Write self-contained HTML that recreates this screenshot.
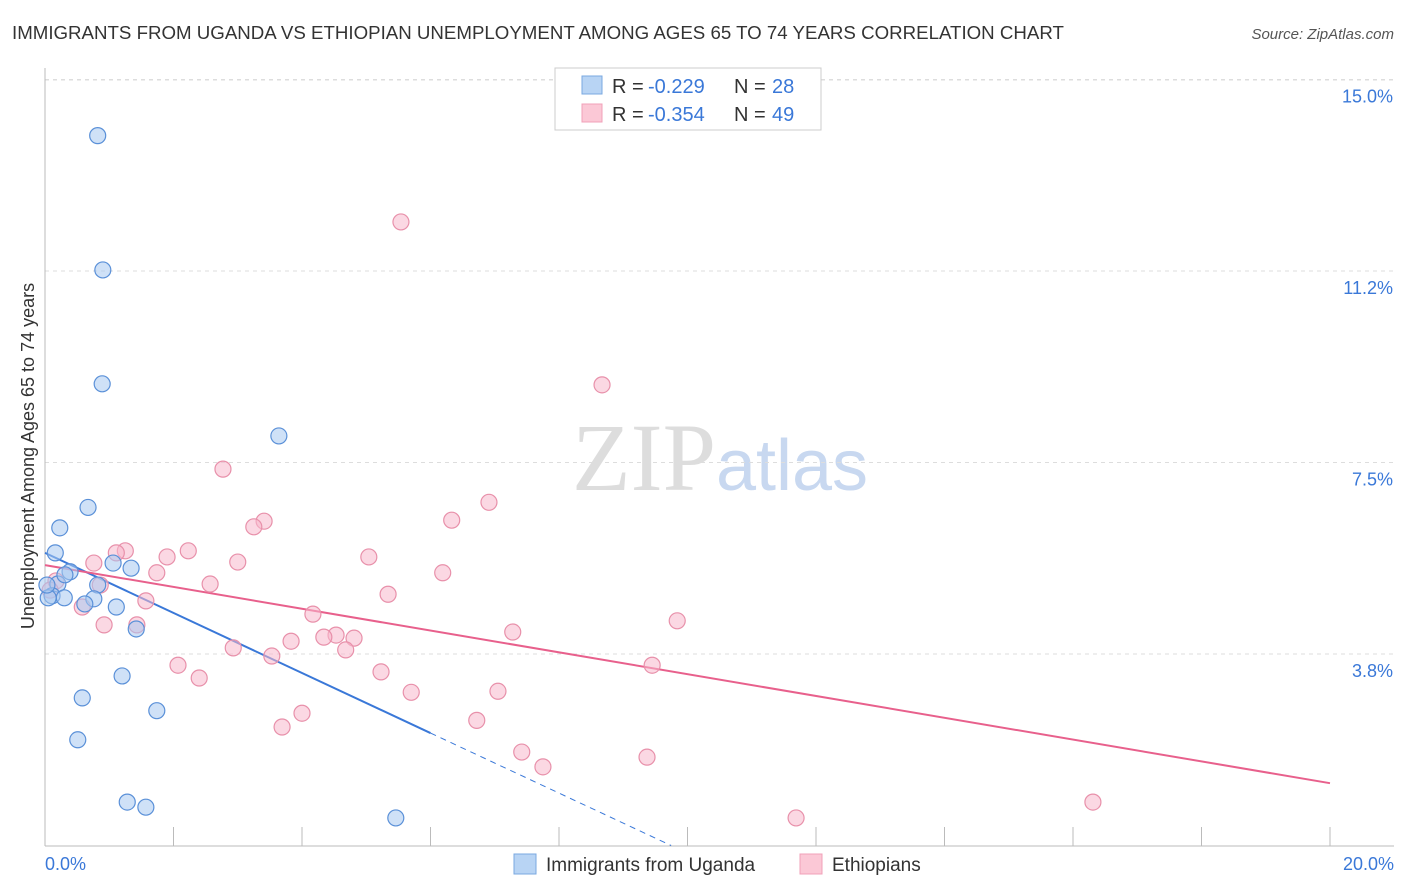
<!DOCTYPE html>
<html><head><meta charset="utf-8"><style>
body{margin:0;background:#fff;font-family:"Liberation Sans",sans-serif;}
svg{display:block}
</style></head><body>
<svg id="chart" width="1406" height="892" viewBox="0 0 1406 892">
<text x="12" y="39" font-size="18.7" fill="#333">IMMIGRANTS FROM UGANDA VS ETHIOPIAN UNEMPLOYMENT AMONG AGES 65 TO 74 YEARS CORRELATION CHART</text>
<text x="1394" y="39" font-size="15" fill="#555" text-anchor="end" font-style="italic">Source: ZipAtlas.com</text>
<text x="720" y="490" font-size="96" text-anchor="middle" fill="#ddd" font-family="Liberation Serif,serif">ZIP<tspan fill="#c8d8f0" font-family="Liberation Sans,sans-serif" font-size="72">atlas</tspan></text>
<g id="grid"></g><g id="axes"></g><g id="lines"></g><g id="pts"></g>
<text transform="translate(34,456) rotate(-90)" font-size="18" fill="#333" text-anchor="middle">Unemployment Among Ages 65 to 74 years</text>
<g font-size="20">
<rect x="555" y="68" width="266" height="62" fill="#fff" stroke="#ccc"/>
<rect x="582" y="76" width="20" height="18" fill="#b8d4f4" stroke="#7aa8e0"/>
<text x="612" y="93" fill="#333">R =</text><text x="648" y="93" fill="#3a78d8">-0.229</text>
<text x="734" y="93" fill="#333">N =</text><text x="772" y="93" fill="#3a78d8">28</text>
<rect x="582" y="104" width="20" height="18" fill="#fbc8d6" stroke="#f0a0b8"/>
<text x="612" y="121" fill="#333">R =</text><text x="648" y="121" fill="#3a78d8">-0.354</text>
<text x="734" y="121" fill="#333">N =</text><text x="772" y="121" fill="#3a78d8">49</text>
</g>
<g>
<rect x="514" y="854" width="22" height="20" fill="#b8d4f4" stroke="#7aa8e0"/>
<text x="546" y="871" font-size="19" fill="#333">Immigrants from Uganda</text>
<rect x="800" y="854" width="22" height="20" fill="#fbc8d6" stroke="#f0a0b8"/>
<text x="832" y="871" font-size="19" fill="#333">Ethiopians</text>
</g>
</svg>
<script>
const yTicks=[3.8,7.5,11.2,15.0];
const yTickVals=[3.75,7.5,11.25,15.0];
const xTickLabels=["0.0%","20.0%"];
const blueX=[0.82,0.90,0.89,3.64,0.67,0.23,0.16,1.06,1.34,0.39,0.20,0.82,0.11,0.30,0.76,0.62,1.11,1.42,1.20,0.58,1.74,0.51,1.28,1.57,5.46,0.05,0.03,0.31];
const blueY=[13.9,11.27,9.04,8.02,6.62,6.22,5.73,5.53,5.43,5.36,5.12,5.10,4.89,4.85,4.83,4.73,4.67,4.24,3.32,2.89,2.64,2.07,0.85,0.75,0.54,4.85,5.10,5.3];
const pinkX=[5.54,8.67,2.77,6.91,3.41,3.25,6.33,1.25,1.11,2.23,1.90,5.04,3.00,0.76,1.74,6.19,2.57,0.17,0.86,5.34,1.57,0.58,4.17,9.84,0.92,1.43,7.28,4.53,4.34,4.81,3.83,2.93,4.68,3.53,9.45,2.07,2.40,5.23,5.70,7.05,4.00,6.72,3.69,7.42,7.75,9.37,16.31,11.69,0.08];
const pinkY=[12.21,9.02,7.37,6.72,6.35,6.24,6.37,5.77,5.73,5.77,5.65,5.65,5.55,5.53,5.34,5.34,5.12,5.18,5.10,4.92,4.79,4.67,4.53,4.40,4.32,4.32,4.18,4.12,4.08,4.06,4.00,3.87,3.83,3.71,3.53,3.53,3.28,3.40,3.00,3.02,2.59,2.45,2.32,1.83,1.54,1.73,0.85,0.54,5.0];
const blueLine=[5.73,-0.588];
const pinkLine=[5.49,-0.2135];
const NS="http://www.w3.org/2000/svg";
const sx=v=>45+v*64.25, sy=v=>845.5-v*51.07;
function mk(parent,tag,at){const e=document.createElementNS(NS,tag);for(const k in at)e.setAttribute(k,at[k]);document.getElementById(parent).appendChild(e);return e;}
yTicks.forEach((t,i)=>{
 const l=mk('grid','line',{x1:45,x2:1394,y1:sy(yTickVals[i]),y2:sy(yTickVals[i]),stroke:'#ddd','stroke-dasharray':'4,4'});
 
 
 const tx=mk('axes','text',{x:1393,y:sy(yTickVals[i])+23,'font-size':18,fill:'#3a78d8','text-anchor':'end'});
 tx.textContent=t.toFixed(1)+'%';
 
 
});
const topGrid=mk('grid','line',{x1:45,x2:1394,y1:80,y2:80,stroke:'#ddd','stroke-dasharray':'4,4'});


const ya=mk('axes','line',{x1:45,x2:45,y1:68,y2:846,stroke:'#bbb'});


const xa=mk('axes','line',{x1:45,x2:1394,y1:846,y2:846,stroke:'#bbb'});


for(let i=0;i<=10;i++){const t=mk('axes','line',{x1:sx(i*2),x2:sx(i*2),y1:827,y2:846,stroke:'#bbb'});
 
 }
[[0,'start',45],[20,'end',1394]].forEach((d,i)=>{const t=mk('axes','text',{x:d[2],y:870,'font-size':18,fill:'#3a78d8','text-anchor':d[1]});t.textContent=xTickLabels[i];
 
 });
function pts(X,Y,fill,stroke,name){X.forEach((x,i)=>{const c=mk('pts','circle',{cx:sx(x),cy:sy(Y[i]),r:8,fill:fill,'fill-opacity':0.55,stroke:stroke,'stroke-width':1.2});
 
 });}
pts(pinkX,pinkY,'#f8b8cc','#e890aa','ethiopians-point');
pts(blueX,blueY,'#a8c8f0','#5a90d8','uganda-point');
const bl=mk('lines','line',{x1:sx(0),y1:sy(blueLine[0]),x2:sx(6),y2:sy(blueLine[0]+blueLine[1]*6),stroke:'#3a78d8','stroke-width':2});


const xe=-blueLine[0]/blueLine[1];
const bd=mk('lines','line',{x1:sx(6),y1:sy(blueLine[0]+blueLine[1]*6),x2:sx(xe),y2:sy(0),stroke:'#3a78d8','stroke-width':1,'stroke-dasharray':'6,5'});


const pl=mk('lines','line',{x1:sx(0),y1:sy(pinkLine[0]),x2:sx(20),y2:sy(pinkLine[0]+pinkLine[1]*20),stroke:'#e8608c','stroke-width':2});


</script>
</body></html>
